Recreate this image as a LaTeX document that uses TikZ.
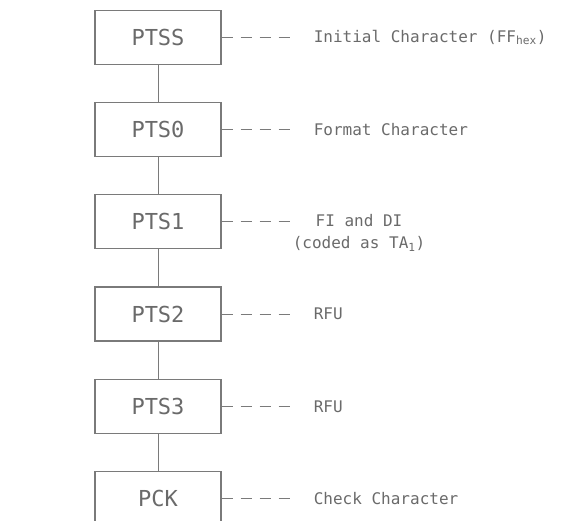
\documentclass[tikz,border=0pt]{standalone}
\usepackage{fontspec}
\setmainfont{DejaVu Sans Mono}
\usetikzlibrary{positioning,calc}
\definecolor{colLine}{HTML}{7A7A7A}
\definecolor{colText}{HTML}{6A6A6A}
\tikzset{
  ptsbox/.style={draw=colLine,line width=1.2pt,fill=white,minimum width=126pt,
    minimum height=54pt,inner sep=0pt,text=colText,font=\fontsize{22}{26}\selectfont},
  note/.style={inner sep=0pt,text=colText,font=\fontsize{16}{22}\selectfont},
  tie/.style={draw=colLine,line width=0.9pt,dash pattern=on 11pt off 8pt},
  link/.style={draw=colLine,line width=1pt},
}

\begin{document}
\begin{tikzpicture}[node distance=37pt]
  \useasboundingbox (0,0) rectangle (563pt,-521pt);
  % the chain of characters
  \node[ptsbox] (ss) at (158pt,-37.5pt) {PTSS};
  \node[ptsbox,below=of ss] (s0) {PTS0};
  \node[ptsbox,below=of s0] (s1) {PTS1};
  \node[ptsbox,below=of s1] (s2) {PTS2};
  \node[ptsbox,below=of s2] (s3) {PTS3};
  \node[ptsbox,below=of s3] (ck) {PCK};
  \draw[link] (ss)--(s0); \draw[link] (s0)--(s1); \draw[link] (s1)--(s2);
  \draw[link] (s2)--(s3); \draw[link] (s3)--(ck);
  % notes on the right
  \coordinate[right=74pt of ss] (ssd);
  \coordinate[right=74pt of s0] (s0d);
  \coordinate[right=74pt of s1] (s1d);
  \coordinate[right=74pt of s2] (s2d);
  \coordinate[right=74pt of s3] (s3d);
  \coordinate[right=74pt of ck] (ckd);
  \node[note,right=18pt of ssd] (ssn) {Initial Character (FF\textsubscript{hex})};
  \node[note,right=18pt of s0d] (s0n) {Format Character};
  \node[note,align=center,right=-3pt of s1d,yshift=-11pt] (s1n)
    {FI and DI\\(coded as TA\textsubscript{1})};
  \node[note,right=18pt of s2d] (s2n) {RFU};
  \node[note,right=18pt of s3d] (s3n) {RFU};
  \node[note,right=18pt of ckd] (ckn) {Check Character};
  \draw[tie] (ss)--(ssd); \draw[tie] (s0)--(s0d); \draw[tie] (s1)--(s1d);
  \draw[tie] (s2)--(s2d); \draw[tie] (s3)--(s3d); \draw[tie] (ck)--(ckd);
\end{tikzpicture}
\end{document}
